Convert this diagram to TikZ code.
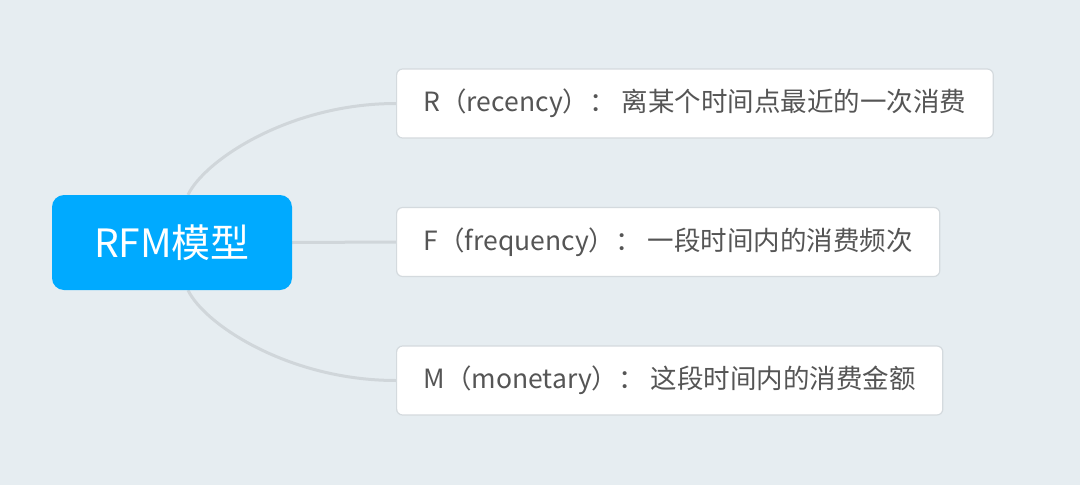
\documentclass[tikz,border=0pt]{standalone}
\usepackage{fontspec}
\setmainfont{Noto Sans CJK SC}
\usetikzlibrary{backgrounds}
\usetikzlibrary{calc}

\definecolor{bgcol}{RGB}{230,237,241}
\definecolor{rootcol}{RGB}{0,170,255}
\definecolor{linkcol}{RGB}{208,214,218}
\definecolor{boxline}{RGB}{212,218,222}
\definecolor{textcol}{RGB}{85,85,85}

\begin{document}
\begin{tikzpicture}[
    x=1pt,y=-1pt,
    root/.style={fill=rootcol,text=white,rounded corners=12pt,
        minimum width=240pt,minimum height=95pt,
        font=\fontsize{39}{42}\selectfont},
    branch/.style={draw=boxline,line width=1.2pt,fill=white,
        rounded corners=6pt,anchor=west,minimum height=69pt,
        inner xsep=27pt,text=textcol,
        font=\fontsize{26.5}{30}\selectfont},
    link/.style={draw=linkcol,line width=3pt},
]
\useasboundingbox (0,0) rectangle (1080,485);

%----------------------------------
% Root and branches
%----------------------------------

\node[root] (rfm) at (172,242.5) {RFM模型};

\node[branch] (rBox) at (396,103.5) {R（recency）： 离某个时间点最近的一次消费};
\node[branch] (fBox) at (396,242) {F（frequency）： 一段时间内的消费频次};
\node[branch] (mBox) at (396,380.5) {M（monetary）： 这段时间内的消费金额};

%----------------------------------
% Links
%----------------------------------

\begin{scope}[on background layer]
\fill[bgcol] (0,0) rectangle (1080,485);

\draw[link] ([xshift=16pt]rfm.north) .. controls +(17,-35) and +(-106,0) .. (rBox.west);
\draw[link] (rfm.east) -- (fBox.west);
\draw[link] ([xshift=16pt]rfm.south) .. controls +(17,35) and +(-106,0) .. (mBox.west);
\end{scope}

\end{tikzpicture}
\end{document}
